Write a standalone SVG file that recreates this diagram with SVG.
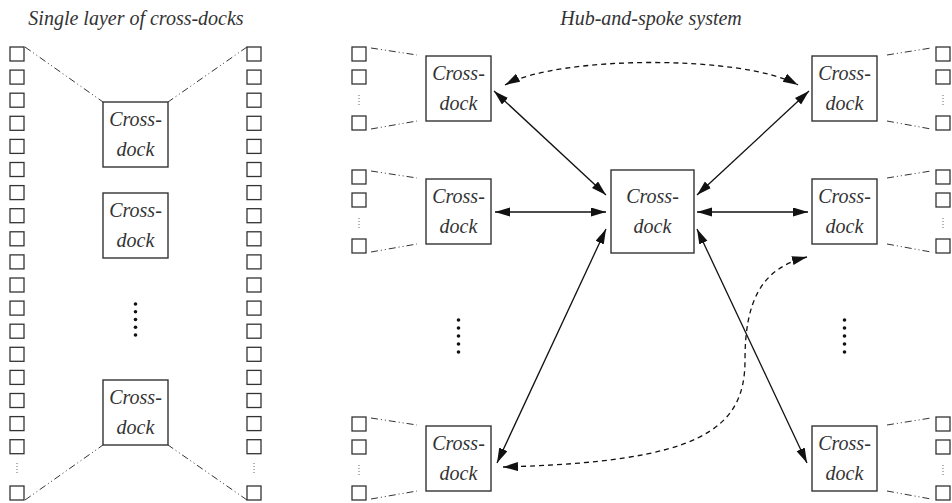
<svg xmlns="http://www.w3.org/2000/svg" xmlns:xlink="http://www.w3.org/1999/xlink" width="952" height="503" viewBox="0 0 952 503">
<style>
.sq{fill:#fff;stroke:#333;stroke-width:1.3}
.box{fill:#fff;stroke:#333;stroke-width:1.4}
.t{font-family:"Liberation Serif",serif;font-style:italic;font-size:20px;fill:#333;text-anchor:middle}
.dd{fill:none;stroke:#333;stroke-width:1;stroke-dasharray:7 3 1 3 1 3}
.sd{fill:none;stroke:#666;stroke-width:1;stroke-dasharray:1 2}
.ar{fill:none;stroke:#111;stroke-width:1.3;marker-start:url(#ah);marker-end:url(#ah)}
.da{fill:none;stroke:#111;stroke-width:1.3;stroke-dasharray:5 4;marker-start:url(#ah);marker-end:url(#ah)}
.dot{fill:#111}
</style>
<defs>
<marker id="ah" markerUnits="userSpaceOnUse" markerWidth="16" markerHeight="10" refX="15" refY="4.5" orient="auto-start-reverse">
<path d="M0,0 L15,4.5 L0,9 z" fill="#111"/>
</marker>
<rect id="s" class="sq" width="14" height="14"/>
</defs>
<g id="titles">
<text class="t" x="136" y="25">Single layer of cross-docks</text>
<text class="t" x="651" y="25">Hub-and-spoke system</text>
</g>
<g id="left-column">
<use href="#s" x="10" y="47"/><use href="#s" x="10" y="70.1"/><use href="#s" x="10" y="93.2"/><use href="#s" x="10" y="116.3"/><use href="#s" x="10" y="139.4"/><use href="#s" x="10" y="162.5"/><use href="#s" x="10" y="185.6"/><use href="#s" x="10" y="208.7"/><use href="#s" x="10" y="231.8"/><use href="#s" x="10" y="254.9"/><use href="#s" x="10" y="278"/><use href="#s" x="10" y="301.1"/><use href="#s" x="10" y="324.2"/><use href="#s" x="10" y="347.3"/><use href="#s" x="10" y="370.4"/><use href="#s" x="10" y="393.5"/><use href="#s" x="10" y="416.6"/><use href="#s" x="10" y="439.7"/>
<line class="sd" x1="17" y1="463" x2="17" y2="474"/>
<use href="#s" x="10" y="486"/>
</g>
<g id="right-column">
<use href="#s" x="247" y="47"/><use href="#s" x="247" y="70.1"/><use href="#s" x="247" y="93.2"/><use href="#s" x="247" y="116.3"/><use href="#s" x="247" y="139.4"/><use href="#s" x="247" y="162.5"/><use href="#s" x="247" y="185.6"/><use href="#s" x="247" y="208.7"/><use href="#s" x="247" y="231.8"/><use href="#s" x="247" y="254.9"/><use href="#s" x="247" y="278"/><use href="#s" x="247" y="301.1"/><use href="#s" x="247" y="324.2"/><use href="#s" x="247" y="347.3"/><use href="#s" x="247" y="370.4"/><use href="#s" x="247" y="393.5"/><use href="#s" x="247" y="416.6"/><use href="#s" x="247" y="439.7"/>
<line class="sd" x1="254" y1="463" x2="254" y2="474"/>
<use href="#s" x="247" y="486"/>
</g>
<g id="left-cd1"><rect class="box" x="103" y="102" width="65" height="65"/><text class="t" x="135.5" y="126">Cross-</text><text class="t" x="135.5" y="156">dock</text></g>
<g id="left-cd2"><rect class="box" x="103" y="193" width="65" height="65"/><text class="t" x="135.5" y="217">Cross-</text><text class="t" x="135.5" y="247">dock</text></g>
<g id="left-dots"><circle class="dot" cx="135.5" cy="304" r="1.8"/><circle class="dot" cx="135.5" cy="311.8" r="1.8"/><circle class="dot" cx="135.5" cy="319.5" r="1.8"/><circle class="dot" cx="135.5" cy="327.3" r="1.8"/><circle class="dot" cx="135.5" cy="335" r="1.8"/></g>
<g id="left-cd3"><rect class="box" x="103" y="380" width="65" height="65"/><text class="t" x="135.5" y="404">Cross-</text><text class="t" x="135.5" y="434">dock</text></g>
<g id="left-links">
<line class="dd" x1="25" y1="47" x2="103" y2="102"/>
<line class="dd" x1="247" y1="47" x2="168" y2="102"/>
<line class="dd" x1="25" y1="500" x2="103" y2="445"/>
<line class="dd" x1="247" y1="500" x2="168" y2="445"/>
</g>
<g id="hub"><rect class="box" x="611" y="170" width="83" height="83"/><text class="t" x="652.5" y="203">Cross-</text><text class="t" x="652.5" y="233">dock</text></g>
<g id="cd-tl" transform="translate(0,0)"><rect class="box" x="426" y="56" width="65" height="65"/><text class="t" x="458.5" y="80">Cross-</text><text class="t" x="458.5" y="110">dock</text>
<use href="#s" x="352" y="47"/><use href="#s" x="352" y="70"/><line class="sd" x1="359" y1="95" x2="359" y2="105"/><use href="#s" x="352" y="116"/>
<line class="dd" x1="371" y1="48" x2="417" y2="55"/><line class="dd" x1="371" y1="129" x2="417" y2="121"/></g>
<g id="cd-ml" transform="translate(0,123)"><rect class="box" x="426" y="56" width="65" height="65"/><text class="t" x="458.5" y="80">Cross-</text><text class="t" x="458.5" y="110">dock</text>
<use href="#s" x="352" y="47"/><use href="#s" x="352" y="70"/><line class="sd" x1="359" y1="95" x2="359" y2="105"/><use href="#s" x="352" y="116"/>
<line class="dd" x1="371" y1="48" x2="417" y2="55"/><line class="dd" x1="371" y1="129" x2="417" y2="121"/></g>
<g id="cd-bl" transform="translate(0,370)"><rect class="box" x="426" y="56" width="65" height="65"/><text class="t" x="458.5" y="80">Cross-</text><text class="t" x="458.5" y="110">dock</text>
<use href="#s" x="352" y="47"/><use href="#s" x="352" y="70"/><line class="sd" x1="359" y1="95" x2="359" y2="105"/><use href="#s" x="352" y="116"/>
<line class="dd" x1="371" y1="48" x2="417" y2="55"/><line class="dd" x1="371" y1="129" x2="417" y2="121"/></g>
<g id="cd-tr" transform="translate(0,0)"><rect class="box" x="812" y="56" width="65" height="65"/><text class="t" x="844.5" y="80">Cross-</text><text class="t" x="844.5" y="110">dock</text>
<use href="#s" x="936" y="47"/><use href="#s" x="936" y="70"/><line class="sd" x1="943" y1="95" x2="943" y2="105"/><use href="#s" x="936" y="116"/>
<line class="dd" x1="887" y1="55" x2="931" y2="48"/><line class="dd" x1="887" y1="121" x2="931" y2="129"/></g>
<g id="cd-mr" transform="translate(0,123)"><rect class="box" x="812" y="56" width="65" height="65"/><text class="t" x="844.5" y="80">Cross-</text><text class="t" x="844.5" y="110">dock</text>
<use href="#s" x="936" y="47"/><use href="#s" x="936" y="70"/><line class="sd" x1="943" y1="95" x2="943" y2="105"/><use href="#s" x="936" y="116"/>
<line class="dd" x1="887" y1="55" x2="931" y2="48"/><line class="dd" x1="887" y1="121" x2="931" y2="129"/></g>
<g id="cd-br" transform="translate(0,370)"><rect class="box" x="812" y="56" width="65" height="65"/><text class="t" x="844.5" y="80">Cross-</text><text class="t" x="844.5" y="110">dock</text>
<use href="#s" x="936" y="47"/><use href="#s" x="936" y="70"/><line class="sd" x1="943" y1="95" x2="943" y2="105"/><use href="#s" x="936" y="116"/>
<line class="dd" x1="887" y1="55" x2="931" y2="48"/><line class="dd" x1="887" y1="121" x2="931" y2="129"/></g>
<g id="right-dots">
<circle class="dot" cx="458.5" cy="320" r="1.8"/><circle class="dot" cx="458.5" cy="328" r="1.8"/><circle class="dot" cx="458.5" cy="336" r="1.8"/><circle class="dot" cx="458.5" cy="344" r="1.8"/><circle class="dot" cx="458.5" cy="352" r="1.8"/>
<circle class="dot" cx="844.5" cy="320" r="1.8"/><circle class="dot" cx="844.5" cy="328" r="1.8"/><circle class="dot" cx="844.5" cy="336" r="1.8"/><circle class="dot" cx="844.5" cy="344" r="1.8"/><circle class="dot" cx="844.5" cy="352" r="1.8"/>
</g>
<g id="connectors">
<line class="ar" x1="494" y1="91" x2="606" y2="195"/>
<line class="ar" x1="809" y1="91" x2="697" y2="195"/>
<line class="ar" x1="495" y1="212" x2="606" y2="212"/>
<line class="ar" x1="697" y1="212" x2="808" y2="212"/>
<line class="ar" x1="497" y1="463" x2="606" y2="229"/>
<line class="ar" x1="697" y1="229" x2="807" y2="463"/>
<path class="da" d="M505,85 C560,55 744,55 798,85"/>
<path class="da" d="M503,467 C700,462 745,430 745,360 C745,300 762,268 807,257"/>
</g>
</svg>
